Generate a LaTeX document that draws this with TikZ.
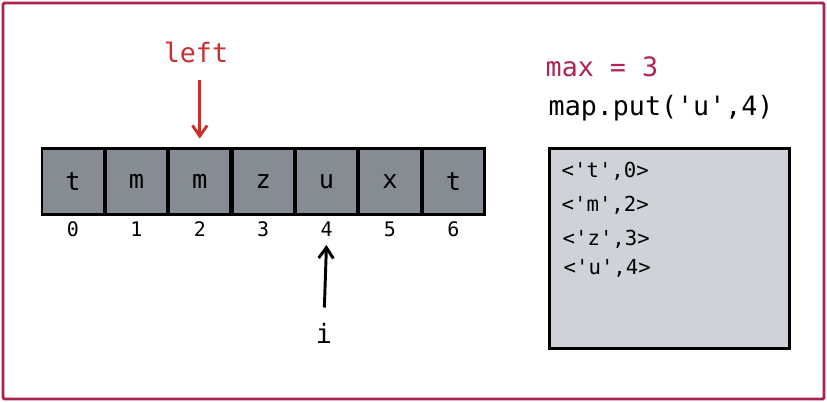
\documentclass[tikz,border=0pt]{standalone}
\usepackage{fontspec}
\setmonofont{DejaVu Sans Mono}
\usepackage{xcolor}
\usepackage{tikz}
\usetikzlibrary{arrows.meta}

\definecolor{frame}{HTML}{A8234A}
\definecolor{leftred}{HTML}{C92F2F}
\definecolor{maxred}{HTML}{B0244F}
\definecolor{cellgray}{HTML}{868C94}
\definecolor{mapgray}{HTML}{CFD3D9}

\begin{document}
\begin{tikzpicture}[x=0.75pt, y=-0.75pt, >={Straight Barb[length=8pt,width=11pt]},
		cell/.style={draw=black, line width=2.2pt, fill=cellgray, minimum width=46.5pt, minimum height=50pt, inner sep=0pt, font=\ttfamily\fontsize{19}{21}\selectfont},
		idx/.style={font=\ttfamily\fontsize{15}{17}\selectfont},
		entry/.style={anchor=west, font=\ttfamily\fontsize{15.5}{17}\selectfont},
		big/.style={font=\ttfamily\fontsize{20}{22}\selectfont}]
		% 1. 画布与外框
		\useasboundingbox (0,0) rectangle (827,402);
		\draw[frame, line width=2.2pt, rounded corners=1pt] (3,3) rectangle (824,399);
		
		\def\w{63.4}
		
		% 2. 数组格子与下标
		\foreach \ch [count=\i from 0] in {t,m,m,z,u,x,t} {
			\node[cell] (c\i) at (73+\w*\i, 181.5) {\ch};
			\node[idx] (idx\i) at (73+\w*\i, 229) {\i};
		}
		
		% 3. 指针 left
		\node[big, text=leftred] (lefttxt) at (196, 52) {left};
		\draw[->, leftred, line width=2.2pt, shorten <=10pt, shorten >=6pt] (lefttxt.south -| c2) -- (c2.north);
		
		% 4. 指针 i
		\node[big] (itxt) at (324, 333) {i};
		\draw[->, black, line width=2.2pt, shorten <=8pt, shorten >=3pt] (itxt.north) -- (idx4.south);
		
		% 5. 右侧变量与操作
		\node[big, text=maxred, anchor=west] (maxtxt) at (541, 67) {max = 3};
		\node[big, anchor=west] (puttxt) at (544, 108) {map.put('u',4)};
		
		% 6. 哈希表
		\node[draw=black, line width=2.2pt, fill=mapgray, minimum width=180pt, minimum height=150pt, inner sep=0pt] (map) at (669.5, 248.5) {};
		\node[entry] (e1) at (557, 171) {<'t',0>};
		\node[entry] (e2) at (557, 205) {<'m',2>};
		\node[entry] (e3) at (558, 239) {<'z',3>};
		\node[entry] (e4) at (559, 268) {<'u',4>};
		
	\end{tikzpicture}
\end{document}
